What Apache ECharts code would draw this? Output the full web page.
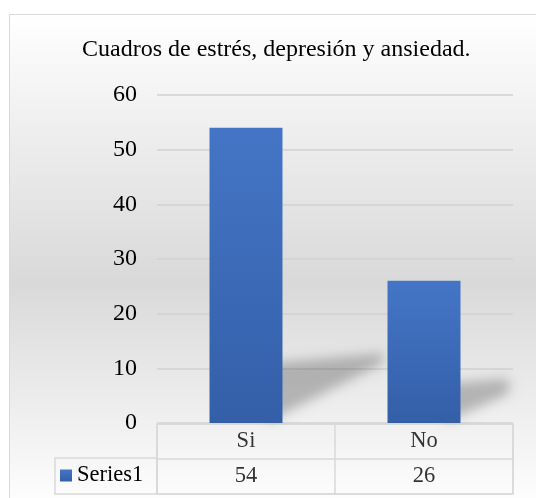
<!DOCTYPE html>
<html>
<head>
<meta charset="utf-8">
<script src="https://cdn.jsdelivr.net/npm/echarts@6/dist/echarts.min.js"></script>
<style>
html,body{margin:0;padding:0;background:#fff;}
#chart{width:536px;height:498px;}
</style>
</head>
<body>
<div id="chart"></div>
<script>
var titleText = 'Cuadros de estrés, depresión y ansiedad.';
var categories = ['Si', 'No'];
var seriesName = 'Series1';
var values = [54, 26];
var yTicks = { min: 0, max: 60, interval: 10 };

var FONT = '"Liberation Serif", "Times New Roman", serif';
var chart = echarts.init(document.getElementById('chart'), null, { renderer: 'canvas' });

var headerRow = categories.map(function (c) { return [c, 'head', c]; });
var valueRow = categories.map(function (c, i) { return [c, 'val', String(values[i])]; });

var OFF = 2000;

var option = {
  animation: false,
  backgroundColor: '#ffffff',
  graphic: [{
    type: 'rect',
    z: -10,
    silent: true,
    shape: { x: 9.5, y: 14.5, width: 560, height: 496 },
    style: {
      fill: { type: 'linear', x: 0, y: 0, x2: 0, y2: 1,
        colorStops: [{ offset: 0, color: '#ffffff' }, { offset: 0.54, color: '#d9d9d9' }, { offset: 1, color: '#ffffff' }] },
      stroke: '#d9d9d9', lineWidth: 1
    }
  }],
  title: {
    text: titleText,
    left: 77,
    top: 33,
    padding: 5,
    textStyle: { fontFamily: FONT, fontSize: 24, fontWeight: 'normal', color: '#000' }
  },
  legend: {
    data: [seriesName],
    left: 60,
    top: 464,
    icon: 'rect',
    itemWidth: 12,
    itemHeight: 12,
    itemGap: 5,
    padding: 0,
    textStyle: { fontFamily: FONT, fontSize: 22.5, color: '#000' }
  },
  grid: [
    { left: 157, right: 23, top: 95, bottom: 75 },
    { left: 157, right: 23, top: 424, bottom: 4, show: true, borderColor: '#d9d9d9', borderWidth: 1.5, backgroundColor: 'transparent' },
    { left: 55, width: 102, top: 458, bottom: 4, show: true, borderColor: '#d9d9d9', borderWidth: 1.5, backgroundColor: 'transparent' }
  ],
  xAxis: [
    { type: 'category', gridIndex: 0, data: categories,
      axisLine: { show: false }, axisTick: { show: false }, axisLabel: { show: false } },
    { type: 'category', gridIndex: 1, data: categories,
      axisLine: { show: false }, axisTick: { show: false }, axisLabel: { show: false },
      splitLine: { show: true, lineStyle: { color: '#d9d9d9', width: 1.5 } } },
    { type: 'category', gridIndex: 2, data: [''], show: false }
  ],
  yAxis: [
    { type: 'value', gridIndex: 0, min: yTicks.min, max: yTicks.max, interval: yTicks.interval,
      axisLine: { show: false }, axisTick: { show: false },
      axisLabel: { fontFamily: FONT, fontSize: 24, color: '#000', margin: 20 },
      splitLine: { lineStyle: { color: '#d2d2d2', width: 1.5 } } },
    { type: 'category', gridIndex: 1, data: ['head', 'val'], inverse: true,
      axisLine: { show: false }, axisTick: { show: false }, axisLabel: { show: false },
      splitLine: { show: true, lineStyle: { color: '#d9d9d9', width: 1.5 } } },
    { type: 'value', gridIndex: 2, show: false }
  ],
  series: [
    {
      type: 'custom',
      name: 'shadow',
      xAxisIndex: 0, yAxisIndex: 0,
      z: 1,
      silent: true,
      clip: false,
      data: values.map(function (v, i) { return [i, v]; }),
      renderItem: function (params, api) {
        var idx = api.value(0), v = api.value(1);
        var base = api.coord([idx, 0]);
        var top = api.coord([idx, v]);
        var h = base[1] - top[1];
        var bw = api.size([1, 0])[0] * 0.41;
        var xb = base[0] + bw / 2 - OFF;
        var y0 = base[1] - 1;
        var sh = 0.13 * h + 20;
        var len = 0.34 * h;
        return {
          type: 'polygon',
          shape: { points: [
            [xb - 15, y0], [xb - 15, y0 - sh],
            [xb + len, y0 - sh - 0.035 * h], [xb + len, y0 - 0.2 * h]
          ] },
          style: {
            fill: '#000',
            shadowBlur: 12, shadowColor: 'rgba(0,0,0,0.24)', shadowOffsetX: OFF, shadowOffsetY: 0
          }
        };
      }
    },
    {
      type: 'bar',
      name: seriesName,
      xAxisIndex: 0, yAxisIndex: 0,
      z: 3,
      barWidth: '41%',
      data: values,
      itemStyle: {
        color: { type: 'linear', x: 0, y: 0, x2: 0, y2: 1,
          colorStops: [{ offset: 0, color: '#4475c6' }, { offset: 1, color: '#345fa8' }] }
      }
    },
    {
      type: 'scatter',
      name: 'table',
      xAxisIndex: 1, yAxisIndex: 1,
      symbolSize: 0,
      silent: true,
      data: headerRow.concat(valueRow),
      label: {
        show: true, position: 'inside',
        formatter: function (p) { return p.value[2]; },
        fontFamily: FONT, fontSize: 22.5, color: '#000'
      }
    }
  ]
};
chart.setOption(option);
</script>
</body>
</html>
